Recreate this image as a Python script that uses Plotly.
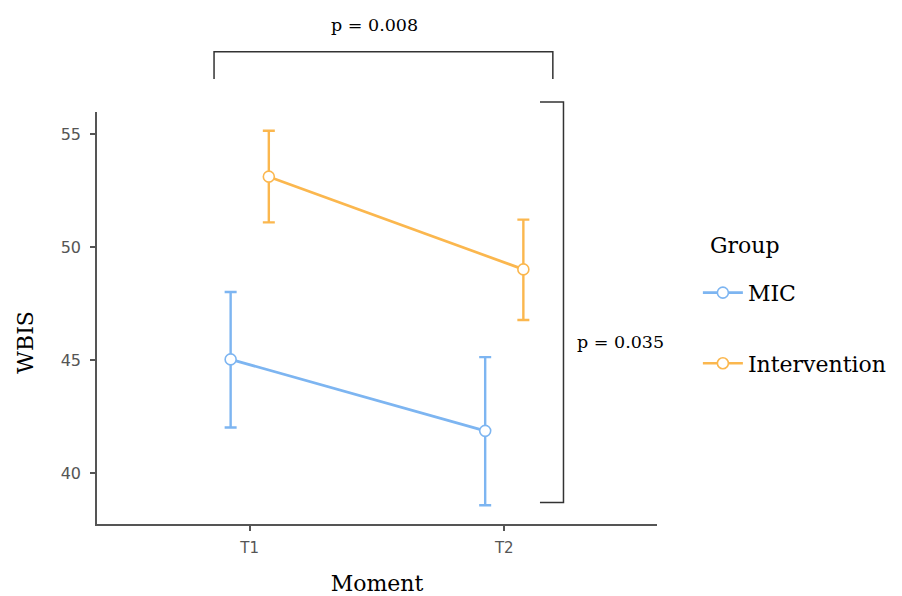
import plotly.graph_objects as go

moments = ["T1", "T2"]
groups = ["MIC", "Intervention"]
mic_mean = [45.04, 41.88]
mic_upper = [48.02, 45.14]
mic_lower = [42.03, 38.59]
int_mean = [53.12, 49.02]
int_upper = [55.15, 51.22]
int_lower = [51.10, 46.78]
p_time = "p = 0.008"
p_group = "p = 0.035"

colors = {"MIC": "#7DB5F1", "Intervention": "#FBB74E"}
dodge = {"MIC": -0.075, "Intervention": 0.075}
serif = "DejaVu Serif"
sans = "DejaVu Sans"

fig = go.Figure()
data = {"MIC": (mic_mean, mic_upper, mic_lower),
        "Intervention": (int_mean, int_upper, int_lower)}
for g in groups:
    m, up, lo = data[g]
    xs = [i + 1 + dodge[g] for i in range(len(moments))]
    fig.add_trace(go.Scatter(
        x=xs, y=m, name=g, mode="lines+markers",
        legendgroup=g,
        line=dict(color=colors[g], width=2.7),
        marker=dict(symbol="circle", size=11, color="white",
                    line=dict(color=colors[g], width=1.6)),
        error_y=dict(type="data", symmetric=False,
                     array=[u - v for u, v in zip(up, m)],
                     arrayminus=[v - l for v, l in zip(m, lo)],
                     color=colors[g], thickness=2.4, width=6),
    ))

line_style = dict(color="#333333", width=1.5)
# top bracket (time effect)
fig.add_shape(type="path", xref="paper", yref="paper",
              path="M 0.209 1.080 L 0.209 1.146 L 0.814 1.146 L 0.814 1.080",
              line=line_style)
# right bracket (group effect)
fig.add_shape(type="path", xref="paper", yref="paper",
              path="M 0.791 1.024 L 0.833 1.024 L 0.833 0.052 L 0.791 0.052",
              line=line_style)
fig.add_annotation(text=p_time, xref="paper", yref="paper", x=0.496, y=1.211,
                   xanchor="center", yanchor="middle", showarrow=False,
                   font=dict(family=serif, size=17.5, color="black"))
fig.add_annotation(text=p_group, xref="paper", yref="paper", x=0.853, y=0.441,
                   xanchor="left", yanchor="middle", showarrow=False,
                   font=dict(family=serif, size=17.5, color="black"))
# y-axis title
fig.add_annotation(text="WBIS", xref="paper", yref="paper", x=-0.128, y=0.441,
                   xanchor="center", yanchor="middle",
                   textangle=-90, showarrow=False,
                   font=dict(family=serif, size=22, color="black"))
# legend title
fig.add_annotation(text="Group", xref="paper", yref="paper", x=1.091, y=0.676,
                   xanchor="left", yanchor="middle", showarrow=False,
                   font=dict(family=serif, size=22, color="black"))

fig.update_layout(
    width=894, height=588,
    margin=dict(l=89, r=245, t=104, b=72, autoexpand=False),
    paper_bgcolor="white", plot_bgcolor="white",
    showlegend=True,
    legend=dict(font=dict(family=serif, size=22, color="black"),
                x=1.073, y=0.612, xanchor="left", yanchor="top",
                tracegroupgap=39, itemwidth=40),
    xaxis=dict(range=[0.4, 2.6], tickvals=[1, 2], ticktext=moments,
               showgrid=False, zeroline=False, showline=True,
               linecolor="#555555", linewidth=1.5,
               ticks="outside", ticklen=5, tickcolor="#555555", tickwidth=1.5,
               ticklabelstandoff=4, automargin=False,
               tickfont=dict(family=sans, size=15, color="#555555"),
               title=dict(text="Moment", font=dict(family=serif, size=22, color="black"),
                          standoff=22)),
    yaxis=dict(range=[37.76, 55.98], tickvals=[40, 45, 50, 55],
               showgrid=False, zeroline=False, showline=True,
               linecolor="#555555", linewidth=1.5,
               ticks="outside", ticklen=5, tickcolor="#555555", tickwidth=1.5,
               ticklabelstandoff=6, automargin=False,
               tickfont=dict(family=sans, size=16, color="#555555")),
)

fig.write_html("out.html")
